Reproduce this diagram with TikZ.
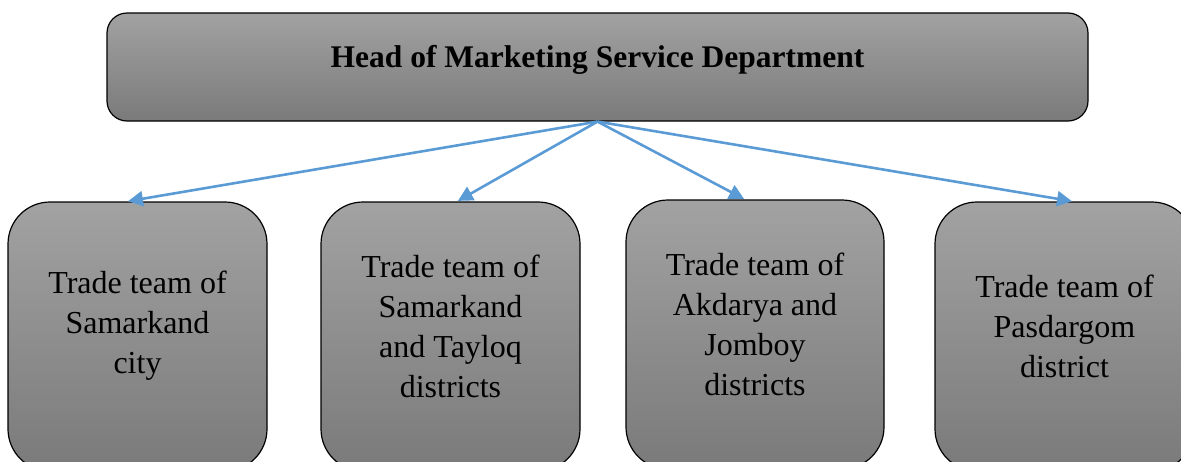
\documentclass[tikz,border=0pt]{standalone}
\usepackage{fontspec}
\setmainfont{Liberation Serif}
\usetikzlibrary{arrows.meta}
\definecolor{shadetop}{RGB}{162,162,162}
\definecolor{shadebot}{RGB}{122,122,122}
\definecolor{linkblue}{RGB}{91,155,213}
\tikzset{
  headbox/.style={draw=black, line width=1.2pt, rounded corners=20pt,
    top color=shadetop, bottom color=shadebot, inner sep=0pt},
  teambox/.style={draw=black, line width=1.2pt, rounded corners=42pt,
    top color=shadetop, bottom color=shadebot, inner sep=0pt,
    minimum width=259pt, minimum height=269pt},
  teamtext/.style={align=center, font=\fontsize{32}{40}\selectfont, inner sep=0pt},
  link/.style={draw=linkblue, line width=2.6pt,
    -{Triangle[length=15pt,width=15pt]}, shorten >=1pt},
}
\begin{document}
\begin{tikzpicture}[x=1pt,y=-1pt]
\useasboundingbox (0,0) rectangle (1181,461);
\clip (0,0) rectangle (1181,461);

% department head
\node[headbox, minimum width=981pt, minimum height=108pt] (head) at (597.5,67) {};
\node[font=\bfseries\fontsize{31.5}{38}\selectfont, inner sep=0pt] (headtxt) at (597.5,60) {Head of Marketing Service Department};

% trade teams
\node[teambox] (b1) at (137.5,336.5) {};
\node[teambox] (b2) at (450.5,336.5) {};
\node[teambox, minimum width=258pt] (b3) at (755,334.5) {};
\node[teambox] (b4) at (1064.5,336.5) {};

\node[teamtext] (t1) at (137.5,326) {Trade team of\\Samarkand\\city};
\node[teamtext] (t2) at (450.5,326) {Trade team of\\Samarkand\\and Tayloq\\districts};
\node[teamtext] (t3) at (755,324) {Trade team of\\Akdarya and\\Jomboy\\districts};
\node[teamtext] (t4) at (1064.5,326) {Trade team of\\Pasdargom\\district};

% reporting lines
\draw[link] (head.south) -- ([xshift=-10.5pt]b1.north);
\draw[link] (head.south) -- ([xshift=6.5pt]b2.north);
\draw[link] (head.south) -- ([xshift=-10pt]b3.north);
\draw[link] (head.south) -- ([xshift=8.5pt]b4.north);
\end{tikzpicture}
\end{document}
